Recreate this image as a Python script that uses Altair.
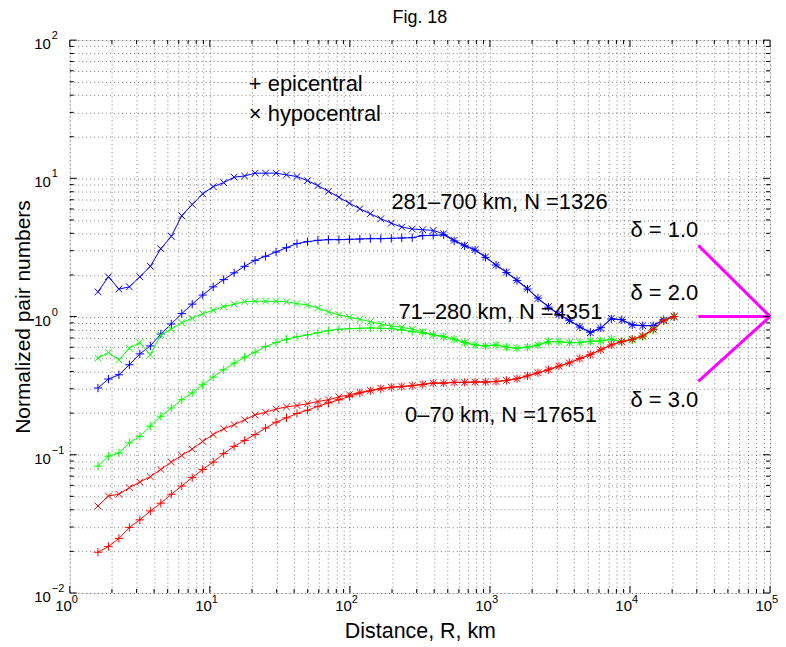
import altair as alt
import pandas as pd

# ---------------- data ----------------
R = [1.590, 1.889, 2.243, 2.665, 3.166, 3.761, 4.468, 5.308, 6.305, 7.490,
     8.898, 10.57, 12.56, 14.92, 17.72, 21.05, 25.01, 29.71, 35.29, 41.93,
     49.81, 59.17, 70.29, 83.50, 99.20, 117.8, 140.0, 166.3, 197.6, 234.7,
     278.8, 331.2, 393.5, 467.4, 555.3, 659.6, 783.6, 930.9, 1106, 1314,
     1561, 1854, 2203, 2617, 3109, 3693, 4387, 5212, 6191, 7355,
     8737, 10380, 12330, 14650, 17400, 20670]

blue_hypo = [1.51, 1.94, 1.58, 1.64, 1.94, 2.31, 3.10, 3.80, 5.36, 6.47, 7.72, 8.71, 9.31, 10.2, 10.4, 10.9,
             10.9, 10.9, 10.6, 10.3, 9.62, 8.86, 8.05, 7.30, 6.61, 6.02, 5.54, 5.10, 4.74, 4.44, 4.30, 4.25,
             4.20, 3.97, 3.56, 3.27, 3.05, 2.70, 2.35, 2.10, 1.83, 1.60, 1.35, 1.18, 1.04, 0.933, 0.845, 0.764,
             0.822, 0.971, 0.944, 0.869, 0.859, 0.859, 0.944, 1.0]
blue_epi = [0.304, 0.353, 0.379, 0.448, 0.537, 0.613, 0.748, 0.883, 1.05, 1.23, 1.43, 1.64, 1.85, 2.07, 2.31, 2.55,
            2.73, 2.93, 3.15, 3.37, 3.48, 3.56, 3.60, 3.60, 3.62, 3.64, 3.66, 3.66, 3.68, 3.70, 3.72, 3.85,
            3.87, 3.90, 3.53, 3.25, 3.02, 2.68, 2.36, 2.08, 1.82, 1.58, 1.36, 1.17, 1.03, 0.94, 0.84, 0.77,
            0.83, 0.96, 0.95, 0.87, 0.86, 0.86, 0.95, 1.0]
green_hypo = [0.500, 0.548, 0.486, 0.590, 0.648, 0.528, 0.736, 0.809, 0.902, 0.971, 1.05, 1.11, 1.18, 1.23, 1.28, 1.29,
              1.29, 1.29, 1.28, 1.24, 1.21, 1.15, 1.08, 1.03, 0.987, 0.954, 0.918, 0.883, 0.855, 0.836, 0.809, 0.777,
              0.736, 0.715, 0.685, 0.648, 0.623, 0.613, 0.623, 0.600, 0.590, 0.600, 0.623, 0.658, 0.658, 0.648, 0.648, 0.662,
              0.667, 0.685, 0.658, 0.677, 0.715, 0.80, 0.933, 1.0]
green_epi = [0.0828, 0.0977, 0.103, 0.122, 0.136, 0.161, 0.190, 0.218, 0.250, 0.280, 0.321, 0.365, 0.412, 0.460, 0.508, 0.552,
             0.606, 0.648, 0.685, 0.715, 0.736, 0.764, 0.791, 0.809, 0.817, 0.822, 0.827, 0.822, 0.817, 0.80, 0.777, 0.764,
             0.736, 0.715, 0.685, 0.648, 0.623, 0.613, 0.623, 0.600, 0.590, 0.600, 0.623, 0.658, 0.658, 0.648, 0.648, 0.662,
             0.667, 0.685, 0.658, 0.677, 0.715, 0.80, 0.933, 1.0]
red_hypo = [0.0426, 0.0503, 0.0518, 0.0578, 0.0635, 0.0694, 0.0783, 0.0885, 0.0989, 0.110, 0.125, 0.140, 0.154, 0.165, 0.179, 0.194,
            0.203, 0.214, 0.222, 0.227, 0.234, 0.243, 0.250, 0.262, 0.272, 0.282, 0.292, 0.302, 0.309, 0.312, 0.317, 0.324,
            0.330, 0.330, 0.334, 0.334, 0.336, 0.336, 0.339, 0.345, 0.355, 0.372, 0.392, 0.412, 0.438, 0.462, 0.497, 0.530,
            0.575, 0.623, 0.658, 0.685, 0.724, 0.809, 0.933, 1.0]
red_epi = [0.0197, 0.0217, 0.0248, 0.0298, 0.0338, 0.0392, 0.0446, 0.0518, 0.0594, 0.0683, 0.0783, 0.0885, 0.102, 0.115, 0.127, 0.140,
           0.156, 0.172, 0.185, 0.199, 0.210, 0.224, 0.237, 0.250, 0.264, 0.280, 0.290, 0.300, 0.307, 0.311, 0.316, 0.322,
           0.330, 0.330, 0.334, 0.334, 0.336, 0.336, 0.339, 0.345, 0.355, 0.372, 0.392, 0.412, 0.438, 0.462, 0.497, 0.530,
           0.575, 0.623, 0.658, 0.685, 0.724, 0.809, 0.933, 1.0]

annot_text = ["281\u2013700 km, N =1326", "71\u2013280 km, N =4351", "0\u201370 km, N =17651",
              "\u03b4 = 1.0", "\u03b4 = 2.0", "\u03b4 = 3.0"]
annot_x = [198, 222, 248, 10100, 10100, 10100]
annot_y = [6.7, 1.083, 0.195, 4.2, 1.476, 0.25]

legend_text = ["+ epicentral", "\u00d7 hypocentral"]
legend_x = [19.0, 19.0]
legend_y = [48.3, 29.4]

# magenta delta reference lines
delta_x1 = [30760, 30760, 30760]
delta_y1 = [3.27, 1.0, 0.339]
delta_x2 = [100000, 100000, 100000]
delta_y2 = [1.0, 1.0, 1.0]

x_major = [1, 10, 100, 1000, 10000, 100000]
x_exp = ["0", "1", "2", "3", "4", "5"]
y_major = [0.01, 0.1, 1, 10, 100]
y_exp = ["\u22122", "\u22121", "0", "1", "2"]

# ---------------- build ----------------
W, H = 703, 555
FONT = "Liberation Sans"

x_minor = [m * d for d in [1, 10, 100, 1000, 10000] for m in range(2, 10)]
y_minor = [m * d for d in [0.01, 0.1, 1, 10] for m in range(2, 10)]
x_grid = sorted(x_major + x_minor)
y_grid = sorted(y_major + y_minor)

xs = alt.Scale(type="log", domain=[1, 100000], nice=False)
ys = alt.Scale(type="log", domain=[0.01, 100], nice=False)

PLUS = "M-1,0L1,0M0,-1L0,1"
CROSS = "M-0.8,-0.8L0.8,0.8M-0.8,0.8L0.8,-0.8"

rows = []
for name, col, kind, vals in [
    ("blue_hypo", "#0000ff", "hypo", blue_hypo), ("blue_epi", "#0000ff", "epi", blue_epi),
    ("green_hypo", "#00ff00", "hypo", green_hypo), ("green_epi", "#00ff00", "epi", green_epi),
    ("red_hypo", "#ff0000", "hypo", red_hypo), ("red_epi", "#ff0000", "epi", red_epi),
]:
    for r, v in zip(R, vals):
        rows.append({"R": r, "v": v, "series": name, "col": col, "kind": kind})
df = pd.DataFrame(rows)

xgrid_axis = alt.Axis(values=x_grid, grid=True, gridDash=[1, 3], gridColor="#000000",
                      gridOpacity=0.5, ticks=False, labels=False, domain=False,
                      title="Distance, R, km", titleFont=FONT, titleFontSize=21.5,
                      titleFontWeight="normal", titlePadding=28, titleColor="#000")
ygrid_axis = alt.Axis(values=y_grid, grid=True, gridDash=[1, 3], gridColor="#000000",
                      gridOpacity=0.5, ticks=False, labels=False, domain=False,
                      title="Normalized pair numbers", titleFont=FONT, titleFontSize=21,
                      titleFontWeight="normal", titlePadding=36, titleColor="#000")

layers = []
# grid carrier (invisible)
layers.append(alt.Chart(pd.DataFrame({"R": [1], "v": [1]})).mark_point(opacity=0).encode(
    x=alt.X("R:Q", scale=xs, axis=xgrid_axis), y=alt.Y("v:Q", scale=ys, axis=ygrid_axis)))

for color_key in ["blue", "green", "red"]:
    sub = df[df["series"].str.startswith(color_key)]
    c = sub["col"].iloc[0]
    base = alt.Chart(sub)
    layers.append(base.mark_line(color=c, strokeWidth=1).encode(
        x=alt.X("R:Q", scale=xs), y=alt.Y("v:Q", scale=ys), detail="series:N", order="R:Q"))
    layers.append(base.mark_point(color=c, filled=False, strokeWidth=1, size=70, opacity=1).encode(
        x=alt.X("R:Q", scale=xs), y=alt.Y("v:Q", scale=ys),
        shape=alt.Shape("kind:N", scale=alt.Scale(domain=["epi", "hypo"], range=[PLUS, CROSS]), legend=None)))

# magenta lines
dl = pd.DataFrame({"x1": delta_x1, "y1": delta_y1, "x2": delta_x2, "y2": delta_y2})
layers.append(alt.Chart(dl).mark_rule(color="#ff00ff", strokeWidth=3).encode(
    x=alt.X("x1:Q", scale=xs), y=alt.Y("y1:Q", scale=ys), x2="x2:Q", y2="y2:Q"))

# annotations
an = pd.DataFrame({"t": annot_text, "x": annot_x, "y": annot_y})
layers.append(alt.Chart(an).mark_text(align="left", baseline="middle", font=FONT, fontSize=22, color="#000").encode(
    x=alt.X("x:Q", scale=xs), y=alt.Y("y:Q", scale=ys), text="t:N"))
lg = pd.DataFrame({"t": legend_text, "x": legend_x, "y": legend_y})
layers.append(alt.Chart(lg).mark_text(align="left", baseline="middle", font=FONT, fontSize=22, color="#000").encode(
    x=alt.X("x:Q", scale=xs), y=alt.Y("y:Q", scale=ys), text="t:N"))

# title
layers.append(alt.Chart(pd.DataFrame({"t": ["Fig. 18"]})).mark_text(
    align="center", baseline="middle", font=FONT, fontSize=18, color="#000").encode(
    x=alt.value(W / 2), y=alt.value(-22), text="t:N"))

# inside ticks (box)
tx = pd.DataFrame({"v": x_major})
txm = pd.DataFrame({"v": x_minor})
ty = pd.DataFrame({"v": y_major})
tym = pd.DataFrame({"v": y_minor})
for data, L in [(tx, 7), (txm, 4)]:
    layers.append(alt.Chart(data).mark_rule(color="#000", strokeWidth=1).encode(
        x=alt.X("v:Q", scale=xs), y=alt.value(H), y2=alt.value(H - L)))
    layers.append(alt.Chart(data).mark_rule(color="#000", strokeWidth=1).encode(
        x=alt.X("v:Q", scale=xs), y=alt.value(0), y2=alt.value(L)))
for data, L in [(ty, 7), (tym, 4)]:
    layers.append(alt.Chart(data).mark_rule(color="#000", strokeWidth=1).encode(
        y=alt.Y("v:Q", scale=ys), x=alt.value(0), x2=alt.value(L)))
    layers.append(alt.Chart(data).mark_rule(color="#000", strokeWidth=1).encode(
        y=alt.Y("v:Q", scale=ys), x=alt.value(W), x2=alt.value(W - L)))

# tick labels (10 with superscript exponent)
xl = pd.DataFrame({"v": x_major, "e": x_exp, "b": ["10"] * len(x_major)})
layers.append(alt.Chart(xl).mark_text(align="right", baseline="top", font=FONT, fontSize=15, dx=2, color="#000").encode(
    x=alt.X("v:Q", scale=xs), y=alt.value(H + 6), text="b:N"))
layers.append(alt.Chart(xl).mark_text(align="left", baseline="top", font=FONT, fontSize=11, dx=2, color="#000").encode(
    x=alt.X("v:Q", scale=xs), y=alt.value(H + 1), text="e:N"))
yl = pd.DataFrame({"v": y_major, "e": y_exp, "b": ["10"] * len(y_major)})
layers.append(alt.Chart(yl).mark_text(align="right", baseline="middle", font=FONT, fontSize=15, dy=4, color="#000").encode(
    y=alt.Y("v:Q", scale=ys), x=alt.value(-19), text="b:N"))
layers.append(alt.Chart(yl).mark_text(align="left", baseline="middle", font=FONT, fontSize=11, dy=-4, color="#000").encode(
    y=alt.Y("v:Q", scale=ys), x=alt.value(-18), text="e:N"))

chart = alt.layer(*layers).properties(
    width=W, height=H,
    padding={"left": 62, "top": 31, "right": 8, "bottom": 52},
    autosize=alt.AutoSizeParams(type="none"),
).configure_view(stroke="#000", strokeWidth=1).configure(background="white")

chart.save("out.html", embed_options={"renderer": "svg", "actions": False})
